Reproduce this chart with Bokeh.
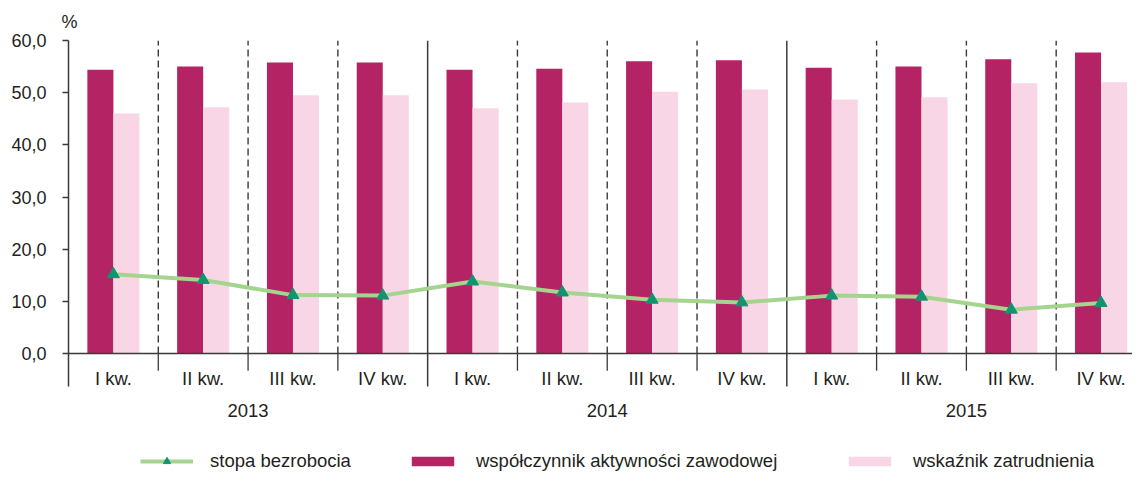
import numpy as np
from bokeh.plotting import figure
from bokeh.models import (FixedTicker, Legend, LegendItem, Range1d, Title)
from bokeh.core.properties import value
from bokeh.embed import file_html
from bokeh.resources import INLINE

# ---------------- data ----------------
years = ["2013", "2014", "2015"]
quarters = ["I kw.", "II kw.", "III kw.", "IV kw."]
aktywnosc = [54.4, 55.0, 55.8, 55.8, 54.4, 54.6, 56.0, 56.2, 54.8, 55.0, 56.4, 57.7]
zatrudnienie = [46.0, 47.2, 49.5, 49.5, 47.0, 48.1, 50.2, 50.6, 48.7, 49.1, 51.8, 52.0]
bezrobocie = [15.2, 14.1, 11.2, 11.1, 13.8, 11.7, 10.3, 9.8, 11.1, 10.9, 8.4, 9.7]
y_ticks = [0, 10, 20, 30, 40, 50, 60]
y_tick_labels = ["0,0", "10,0", "20,0", "30,0", "40,0", "50,0", "60,0"]
unit = "%"
series_names = ["stopa bezrobocia", "współczynnik aktywności zawodowej",
                "wskaźnik zatrudnienia"]

# ---------------- style ----------------
FONT = "Liberation Sans"
FS = "18.5px"
FS_Y = "18px"
TXT = "#231f20"
AX = "#3a3a3a"
DARK = "#b42364"
PINK = "#f8d6e6"
LINE = "#a5d48f"
MARK = "#129471"

n_q = len(quarters)
n = len(years) * n_q
idx = np.arange(n)
quarter_labels = [q for _ in years for q in quarters]

p = figure(width=1132, height=476, output_backend="svg", toolbar_location=None,
           x_range=Range1d(-0.5, 11.35), y_range=Range1d(-23.57, 60),
           x_axis_location=None, min_border_left=68, min_border_right=0,
           min_border_top=40, min_border_bottom=0, title=None)
p.outline_line_color = None
p.grid.grid_line_color = None
p.background_fill_color = "white"

# unit label as a title above the frame
p.add_layout(Title(text=unit, align="left", offset=-7, standoff=17,
                   text_font=FONT, text_font_size=FS_Y, text_font_style="normal",
                   text_color=TXT), "above")

# y axis
ya = p.yaxis[0]
ya.ticker = FixedTicker(ticks=y_ticks)
ya.major_label_overrides = {t: l for t, l in zip(y_ticks, y_tick_labels)}
ya.bounds = (-6.3, 60)
ya.minor_tick_line_color = None
ya.major_tick_in = 0
ya.major_tick_out = 6
ya.major_tick_line_color = AX
ya.major_tick_line_width = 1.3
ya.axis_line_color = AX
ya.axis_line_width = 1.5
ya.major_label_standoff = 16
ya.major_label_text_font = FONT
ya.major_label_text_font_size = FS_Y
ya.major_label_text_color = TXT

# bars
bw = 0.29
r_dark = p.vbar(x=idx - bw / 2, width=bw, top=aktywnosc, bottom=0,
                fill_color=DARK, line_color=None)
r_pink = p.vbar(x=idx + bw / 2, width=bw, top=zatrudnienie, bottom=0,
                fill_color=PINK, line_color=None)

# separators
q_bounds = [i + 0.5 for i in range(n - 1) if (i + 1) % n_q != 0]
y_bounds = [i + 0.5 for i in range(n) if (i + 1) % n_q == 0]
p.segment(x0=q_bounds, y0=[0] * len(q_bounds), x1=q_bounds, y1=[60] * len(q_bounds),
          line_color=AX, line_width=1.4, line_dash="7 4")
p.segment(x0=q_bounds, y0=[0] * len(q_bounds), x1=q_bounds, y1=[-3.3] * len(q_bounds),
          line_color=AX, line_width=1.3)
p.segment(x0=y_bounds, y0=[-6.3] * len(y_bounds), x1=y_bounds, y1=[60] * len(y_bounds),
          line_color=AX, line_width=1.5)
# x axis line
p.segment(x0=[-0.5], y0=[0], x1=[n - 0.5], y1=[0], line_color=AX, line_width=1.5)

# line series
r_line = p.line(idx, bezrobocie, line_color=LINE, line_width=4)
r_mark = p.scatter(idx, bezrobocie, marker="triangle", size=12,
                   fill_color=MARK, line_color=MARK)

# category labels
p.text(x=idx, y=[-4.8] * n, text=quarter_labels, text_align="center",
       text_baseline="middle", text_font=value(FONT), text_font_size=value(FS),
       text_color=TXT)
year_x = [k * n_q + (n_q - 1) / 2 for k in range(len(years))]
p.text(x=year_x, y=[-10.9] * len(years), text=years, text_align="center",
       text_baseline="middle", text_font=value(FONT), text_font_size=value(FS),
       text_color=TXT)

# legends
def make_leg(label, renderers, x, gh):
    return Legend(items=[LegendItem(label=label, renderers=renderers)],
                  location=(x, 4), orientation="horizontal", glyph_width=53,
                  glyph_height=gh, label_standoff=17, padding=0, margin=0,
                  border_line_color=None, background_fill_alpha=0,
                  label_text_font=FONT, label_text_font_size=FS,
                  label_text_color=TXT)

p.add_layout(make_leg(series_names[0], [r_line, r_mark], 72, 18))
p.add_layout(make_leg(series_names[1], [r_dark], 338, 12))
p.add_layout(make_leg(series_names[2], [r_pink], 775, 12))

open("out.html", "w").write(file_html(p, INLINE))
